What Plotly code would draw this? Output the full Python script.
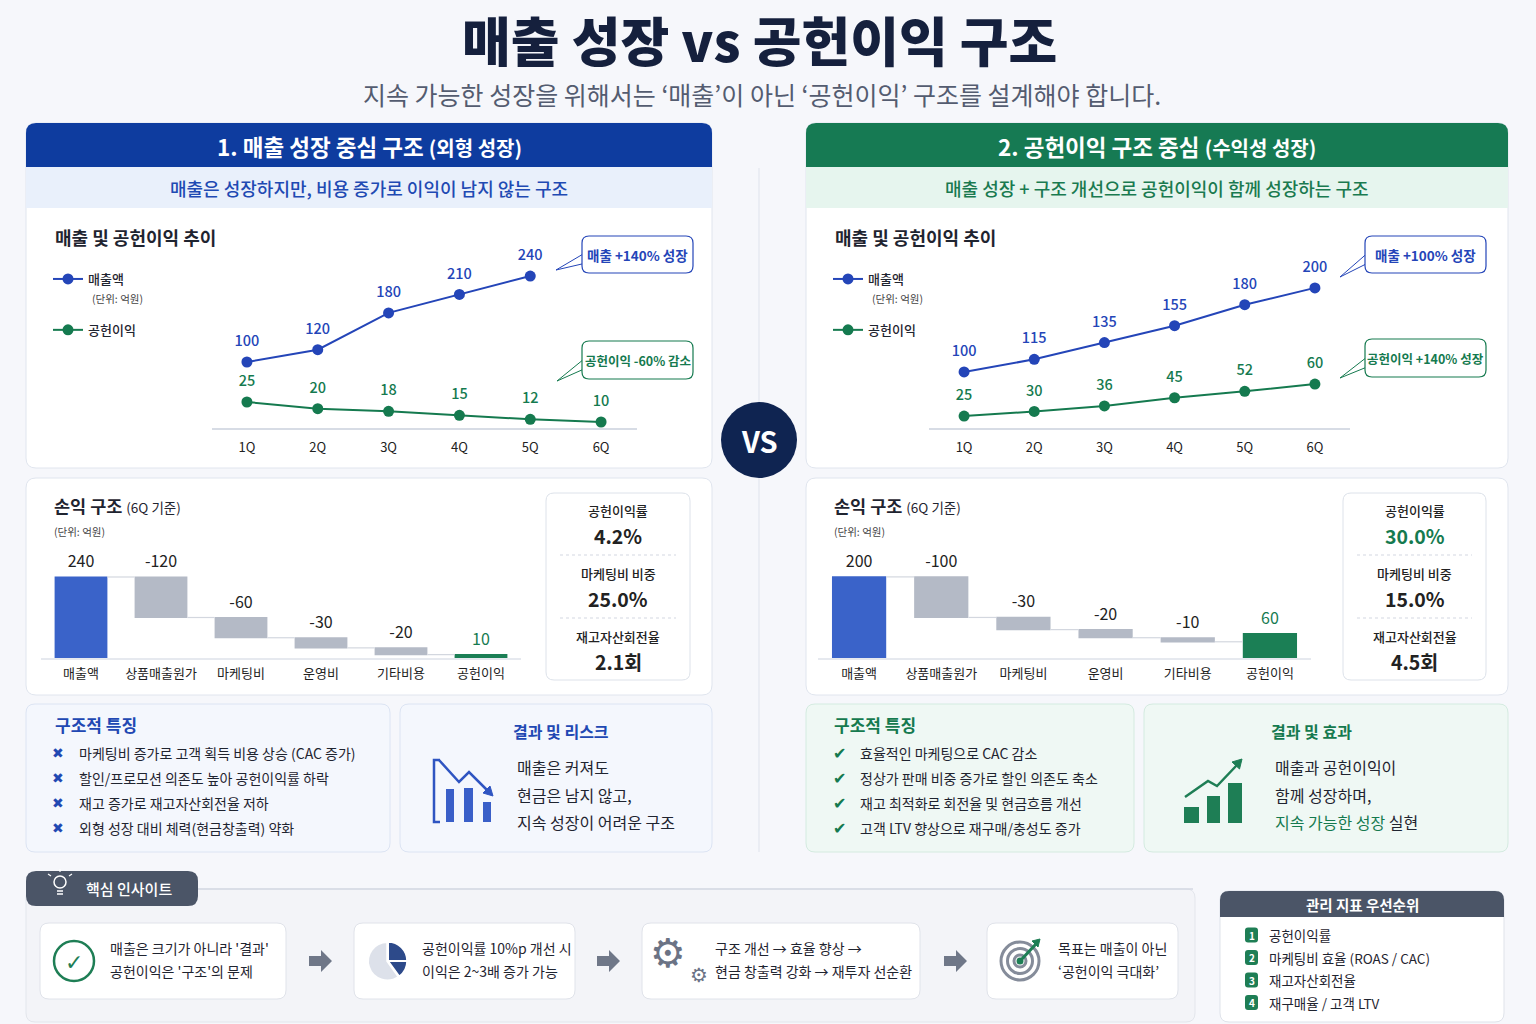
import plotly.graph_objects as go

W, H = 1536, 1024
FONT = "Noto Sans CJK KR"

# ---------------- data ----------------
QUARTERS = ["1Q", "2Q", "3Q", "4Q", "5Q", "6Q"]
LEFT_SALES = [100, 120, 180, 210, 240, None]
LEFT_PROFIT = [25, 20, 18, 15, 12, 10]
RIGHT_SALES = [100, 115, 135, 155, 180, 200]
RIGHT_PROFIT = [25, 30, 36, 45, 52, 60]

PL_ITEMS = ["매출액", "상품매출원가", "마케팅비", "운영비", "기타비용", "공헌이익"]
LEFT_PL = [240, -120, -60, -30, -20, 10]
RIGHT_PL = [200, -100, -30, -20, -10, 60]
PL_MEASURES = ["relative", "relative", "relative", "relative", "relative", "absolute"]

KPI_NAMES = ["공헌이익률", "마케팅비 비중", "재고자산회전율"]
LEFT_KPI = ["4.2%", "25.0%", "2.1회"]
RIGHT_KPI = ["30.0%", "15.0%", "4.5회"]

LEFT_FEATURES = ["마케팅비 증가로 고객 획득 비용 상승 (CAC 증가)",
                 "할인/프로모션 의존도 높아 공헌이익률 하락",
                 "재고 증가로 재고자산회전율 저하",
                 "외형 성장 대비 체력(현금창출력) 약화"]
RIGHT_FEATURES = ["효율적인 마케팅으로 CAC 감소",
                  "정상가 판매 비중 증가로 할인 의존도 축소",
                  "재고 최적화로 회전율 및 현금흐름 개선",
                  "고객 LTV 향상으로 재구매/충성도 증가"]
LEFT_RESULT = ["매출은 커져도", "현금은 남지 않고,", "지속 성장이 어려운 구조"]
RIGHT_RESULT = ["매출과 공헌이익이", "함께 성장하며,",
                "<span style='color:#157a4f'>지속 가능한 성장</span> 실현"]
INSIGHTS = [("매출은 크기가 아니라 '결과'", "공헌이익은 '구조'의 문제"),
            ("공헌이익률 10%p 개선 시", "이익은 2~3배 증가 가능"),
            ("구조 개선 → 효율 향상 →", "현금 창출력 강화 → 재투자 선순환"),
            ("목표는 매출이 아닌", "‘공헌이익 극대화’")]
PRIORITIES = ["공헌이익률", "마케팅비 효율 (ROAS / CAC)", "재고자산회전율", "재구매율 / 고객 LTV"]
PIE_ICON = [25, 15, 60]

# ---------------- colours ----------------
BG = "#f6f7fb"
DARK = "#1f2430"
BLUE_HDR = "#0e3c9f"
GREEN_HDR = "#167a53"
BLUE = "#2445b8"
BLUE_TXT = "#2148b3"
BLUE_BAR = "#3a63c9"
GREEN = "#157a4f"
GREEN_BAR = "#1b7f55"
GRAY_BAR = "#b4bac6"
SLATE = "#4b5567"
CARD_LINE = "#e0e5ee"


def X(p):
    return p / W


def Y(p):
    return 1 - p / H


shapes = []
ann = []


def rpath(x0, y0, x1, y1, r, top=False):
    rx, ry = r / W, r / H
    L, T_, R, B = X(x0), Y(y0), X(x1), Y(y1)
    if top:
        return (f"M{L},{B} L{L},{T_-ry} Q{L},{T_} {L+rx},{T_} L{R-rx},{T_} "
                f"Q{R},{T_} {R},{T_-ry} L{R},{B} Z")
    return (f"M{L+rx},{T_} L{R-rx},{T_} Q{R},{T_} {R},{T_-ry} L{R},{B+ry} "
            f"Q{R},{B} {R-rx},{B} L{L+rx},{B} Q{L},{B} {L},{B+ry} L{L},{T_-ry} "
            f"Q{L},{T_} {L+rx},{T_} Z")


def RR(x0, y0, x1, y1, r=8, fill="white", line=None, lw=1, top=False, dash=None, layer="below"):
    shapes.append(dict(type="path", xref="paper", yref="paper", path=rpath(x0, y0, x1, y1, r, top),
                       fillcolor=fill,
                       line=dict(color=line or "rgba(0,0,0,0)", width=lw if line else 0, dash=dash),
                       layer=layer))


def LN(x0, y0, x1, y1, color, w=1, dash=None, layer="below"):
    shapes.append(dict(type="line", xref="paper", yref="paper", x0=X(x0), y0=Y(y0), x1=X(x1), y1=Y(y1),
                       line=dict(color=color, width=w, dash=dash), layer=layer))


def CI(cx, cy, r, fill=None, line=None, lw=1, layer="below"):
    shapes.append(dict(type="circle", xref="paper", yref="paper", x0=X(cx - r), x1=X(cx + r),
                       y0=Y(cy + r), y1=Y(cy - r), fillcolor=fill or "rgba(0,0,0,0)",
                       line=dict(color=line or "rgba(0,0,0,0)", width=lw if line else 0), layer=layer))


def PG(pts, fill, line=None, lw=1, close=True, layer="below"):
    p = "M" + " L".join(f"{X(a)},{Y(b)}" for a, b in pts) + (" Z" if close else "")
    shapes.append(dict(type="path", xref="paper", yref="paper", path=p, fillcolor=fill,
                       line=dict(color=line or "rgba(0,0,0,0)", width=lw if line else 0), layer=layer))


def T(x, y, s, size=13, color=DARK, weight=400, xa="left", family=FONT):
    ann.append(dict(x=X(x), y=Y(y), xref="paper", yref="paper", text=s, showarrow=False,
                    xanchor=xa, yanchor="middle",
                    font=dict(family=family, size=size, color=color, weight=weight)))


# ---------------- title ----------------
T(759, 39, "매출 성장 vs 공헌이익 구조", 53, "#15203d", 900, "center")
T(762, 94, "지속 가능한 성장을 위해서는 ‘매출’이 아닌 ‘공헌이익’ 구조를 설계해야 합니다.", 25, "#545c70", 400, "center")

# divider
LN(759, 168, 759, 852, "#dfe3ec", 1)


def panel(x0, x1, hdr_col, band_col, hdr_text, band_text, band_txt_col):
    RR(x0, 123, x1, 468, 10, "white", CARD_LINE)
    RR(x0, 123, x1, 167, 10, hdr_col, top=True)
    RR(x0, 167, x1, 208, 0, band_col)
    cx = (x0 + x1) / 2
    T(cx, 146, hdr_text, 22.5, "white", 700, "center")
    T(cx, 188, band_text, 18, band_txt_col, 500, "center")
    T(x0 + 27, 237, "매출 및 공헌이익 추이", 18, DARK, 700)
    T(x0 + 64, 298, "(단위: 억원)", 10.5, "#444")
    RR(x0, 478, x1, 695, 10, "white", CARD_LINE)
    T(x0 + 26, 505, "<b>손익 구조</b> <span style='font-size:13.5px'>(6Q 기준)</span>", 17.5, DARK)
    T(x0 + 26, 531, "(단위: 억원)", 10.5, "#444")


panel(26, 712, BLUE_HDR, "#e9f0fb", "1. 매출 성장 중심 구조 <span style='font-size:20px'>(외형 성장)</span>",
      "매출은 성장하지만, 비용 증가로 이익이 남지 않는 구조", "#1f4ab3")
panel(806, 1508, GREEN_HDR, "#e6f5ee", "2. 공헌이익 구조 중심 <span style='font-size:20px'>(수익성 성장)</span>",
      "매출 성장 + 구조 개선으로 공헌이익이 함께 성장하는 구조", "#1a7a50")


def callout(x0, y0, x1, y1, tip, color, text, size):
    yc = (y0 + y1) / 2
    PG([(x0 + 2, yc - 1), tip, (x0 + 2, yc + 9)], "white", color, 1)
    RR(x0, y0, x1, y1, 7, "white", color, 1.2)
    T((x0 + x1) / 2, yc, text, size, color, 700, "center")


callout(582, 236, 693, 273, (556, 270), BLUE, "매출 +140% 성장", 13.5)
callout(582, 341, 693, 379, (557, 381), GREEN, "공헌이익 -60% 감소", 12.5)
callout(1365, 236, 1486, 273, (1340, 277), BLUE, "매출 +100% 성장", 13.5)
callout(1365, 339, 1486, 377, (1340, 378), GREEN, "공헌이익 +140% 성장", 12.5)


def kpi(x0, x1, vals, first_col):
    RR(x0, 493, x1, 680, 8, "white", "#dde2ea", 1)
    cx = (x0 + x1) / 2
    for i, (nm, v) in enumerate(zip(KPI_NAMES, vals)):
        T(cx, 510 + 63 * i, nm, 13, "#222", 500, "center")
        T(cx, 535 + 63 * i, v, 19.5, first_col if i == 0 else "#222", 700, "center")
    LN(x0 + 14, 555, x1 - 14, 555, "#e2e5eb", 1.5, "dot")
    LN(x0 + 14, 618, x1 - 14, 618, "#e2e5eb", 1.5, "dot")


kpi(546, 690, LEFT_KPI, "#222")
kpi(1343, 1486, RIGHT_KPI, GREEN)

# lower boxes
RR(26, 704, 390, 852, 9, "#f4f7fd", "#dce4f3")
T(53, 724, "구조적 특징", 17, BLUE_TXT, 700)
for i, s in enumerate(LEFT_FEATURES):
    y = 753 + 25 * i
    T(58, y, "✖", 14, BLUE_TXT, 700, "center", "DejaVu Sans")
    T(77, y, s, 14, DARK)
RR(400, 704, 712, 852, 9, "#f4f7fd", "#dce4f3")
T(561, 731, "결과 및 리스크", 16, BLUE_TXT, 700, "center")
for i, s in enumerate(LEFT_RESULT):
    T(515, 767 + 27.5 * i, s, 16, DARK)
# risk icon
ICB = "#2f55c2"
PG([(440, 760), (434, 760), (434, 822), (440, 822)], "rgba(0,0,0,0)", ICB, 2.5, close=False)
PG([(439, 760), (459, 782), (469, 772), (488, 791)], "rgba(0,0,0,0)", ICB, 2.5, close=False)
PG([(493, 796), (483, 793), (490, 786)], ICB, ICB, 1)
RR(446, 789, 454, 822, 0, "#3a5fc8")
RR(464, 788, 473, 822, 0, "#3a5fc8")
RR(483, 802, 491, 822, 0, "#3a5fc8")

RR(806, 704, 1134, 852, 9, "#eff8f4", "#d4ebe0")
T(832, 724, "구조적 특징", 17, GREEN, 700)
for i, s in enumerate(RIGHT_FEATURES):
    y = 753 + 25 * i
    T(839, y, "✔", 16, GREEN, 700, "center", "DejaVu Sans")
    T(858, y, s, 14, DARK)
RR(1144, 704, 1508, 852, 9, "#eff8f4", "#d4ebe0")
T(1311, 731, "결과 및 효과", 16, GREEN, 700, "center")
for i, s in enumerate(RIGHT_RESULT):
    T(1273, 767 + 27.5 * i, s, 16, DARK)
ICG = "#1e7e55"
RR(1184, 807, 1199, 823, 0, ICG)
RR(1207, 796, 1220, 823, 0, ICG)
RR(1228, 783, 1242, 823, 0, ICG)
PG([(1185, 797), (1208, 781), (1217, 786), (1237, 765)], "rgba(0,0,0,0)", ICG, 2.5, close=False)
PG([(1242, 759), (1239.5, 769), (1232, 762)], ICG, ICG, 1)

# VS badge
CI(759, 440, 38, fill="#0f2451")
T(759, 440, "VS", 29, "white", 700, "center")

# ---------------- bottom insight ----------------
RR(26, 889, 1195, 1022, 9, "#f3f4f8", "#e3e6ec")
LN(190, 889, 1193, 889, "#d5d9e3", 1.5)
RR(26, 871, 198, 906, 10, SLATE)
CI(60, 882, 6, line="white", lw=1.5)
LN(57, 891, 63, 891, "white", 1.5)
LN(57, 894, 63, 894, "white", 1.5)
LN(60, 872, 60, 869, "white", 1.2)
LN(51, 876, 48, 874, "white", 1.2)
LN(69, 876, 72, 874, "white", 1.2)
T(84, 888, "핵심 인사이트", 15, "white", 500)

CARDS = [(40, 286, 108), (354, 575, 420), (642, 920, 713), (987, 1178, 1056)]
for (a, b, tx), (l1, l2) in zip(CARDS, INSIGHTS):
    RR(a, 923, b, 999, 9, "white", "#e0e3ea")
    T(tx, 948, l1, 14, DARK)
    T(tx, 971, l2, 14, DARK)
for cx in [320, 608, 955]:
    PG([(cx - 11, 956), (cx + 1, 956), (cx + 1, 950), (cx + 12, 961), (cx + 1, 972),
        (cx + 1, 966), (cx - 11, 966)], "#6f7788")
# icons
CI(74, 961, 20, line=ICG, lw=2.5)
T(74, 962, "✓", 22, ICG, 700, "center", "DejaVu Sans")
T(668, 953, "⚙", 40, "#6b7385", 400, "center", "DejaVu Sans")
T(699, 975, "⚙", 20, "#6b7385", 400, "center", "DejaVu Sans")
for r in (19, 12.5, 6):
    CI(1020, 961, r, line="#858c9a", lw=3)
CI(1020, 961, 3.5, fill=ICG)
LN(1021, 960, 1036, 944, ICG, 3)
PG([(1032, 941), (1040, 939), (1038, 947)], ICG, ICG, 1)

# priority box
RR(1220, 891, 1504, 1022, 9, "white", "#dfe3ea")
RR(1220, 891, 1504, 917, 9, SLATE, top=True)
T(1362, 904, "관리 지표 우선순위", 14.5, "white", 700, "center")
for i, s in enumerate(PRIORITIES):
    y = 935 + 22.5 * i
    RR(1245, y - 7.5, 1258, y + 7.5, 3, ICG)
    T(1251.5, y, str(i + 1), 10, "white", 700, "center")
    T(1267, y, s, 13.5, DARK)

# ---------------- traces ----------------
fig = go.Figure()


def lbl(vals):
    return ["" if v is None else str(v) for v in vals]


def line_pair(xa, ya, vals, color, name, legend):
    fig.add_trace(go.Scatter(x=QUARTERS, y=vals, mode="lines+markers", name=name,
                             line=dict(color=color, width=2), marker=dict(size=11, color=color),
                             xaxis=xa, yaxis=ya, legend=legend, legendgroup=name + legend,
                             showlegend=True, cliponaxis=False, hoverinfo="skip"))
    fig.add_trace(go.Scatter(x=QUARTERS, y=vals, mode="markers+text", text=lbl(vals),
                             textposition="top center", marker=dict(size=18, opacity=0),
                             textfont=dict(size=14.5, color=color, family=FONT, weight=500),
                             xaxis=xa, yaxis=ya, showlegend=False, cliponaxis=False, hoverinfo="skip"))


line_pair("x", "y", LEFT_SALES, BLUE, "매출액", "legend")
line_pair("x", "y2", LEFT_PROFIT, GREEN, "공헌이익", "legend")
line_pair("x2", "y3", RIGHT_SALES, BLUE, "매출액", "legend2")
line_pair("x2", "y4", RIGHT_PROFIT, GREEN, "공헌이익", "legend2")


def tops(vals, measures):
    out, cum = [], 0
    for v, m in zip(vals, measures):
        if m == "absolute":
            cum = v
            out.append(v)
        elif v >= 0:
            cum += v
            out.append(cum)
        else:
            out.append(cum)
            cum += v
    return out


def waterfall(xa, ya, vals):
    fig.add_trace(go.Waterfall(x=PL_ITEMS, y=vals, measure=PL_MEASURES, xaxis=xa, yaxis=ya,
                               increasing=dict(marker=dict(color=BLUE_BAR)),
                               decreasing=dict(marker=dict(color=GRAY_BAR)),
                               totals=dict(marker=dict(color=GREEN_BAR)),
                               connector=dict(line=dict(color="#d3d7df", width=1.2)),
                               textinfo="none", showlegend=False, hoverinfo="skip"))
    cols = ["#222"] * (len(vals) - 1) + [GREEN]
    fig.add_trace(go.Scatter(x=PL_ITEMS, y=tops(vals, PL_MEASURES), mode="markers+text",
                             text=[str(v) for v in vals], textposition="top center",
                             marker=dict(size=8, opacity=0),
                             textfont=dict(size=16, color=cols, family=FONT),
                             xaxis=xa, yaxis=ya, showlegend=False, cliponaxis=False, hoverinfo="skip"))


waterfall("x3", "y5", LEFT_PL)
waterfall("x4", "y6", RIGHT_PL)

pie_dom = dict(x=[X(368), X(408)], y=[Y(981), Y(941)])
fig.add_trace(go.Pie(values=PIE_ICON, labels=["a", "b", "c"], domain=pie_dom, sort=False,
                     direction="clockwise", rotation=0, textinfo="none", hoverinfo="skip",
                     showlegend=False, pull=[0, 0, 0.04],
                     marker=dict(colors=["#2d4a8a", "#2d4a8a", "#dde1ea"], line=dict(color="white", width=2))))


def xcat(x0, x1, anchor, ticklen, linecolor):
    return dict(domain=[X(x0), X(x1)], anchor=anchor, type="category", range=[-0.5, 5.5],
                showline=True, linecolor=linecolor, linewidth=1.5, showgrid=False, zeroline=False,
                ticks="outside", ticklen=ticklen, tickcolor="rgba(0,0,0,0)",
                tickfont=dict(size=13, color="#222", family=FONT), fixedrange=True)


def yhid(y0, y1, rng, anchor, overlay=None):
    d = dict(domain=[Y(y1), Y(y0)], range=rng, visible=False, anchor=anchor, fixedrange=True)
    if overlay:
        d["overlaying"] = overlay
    return d


LEG = dict(xanchor="left", yanchor="top", bgcolor="rgba(0,0,0,0)",
           font=dict(size=13, color=DARK, family=FONT, weight=500), tracegroupgap=31,
           itemwidth=30, traceorder="grouped")

fig.update_layout(
    width=W, height=H, margin=dict(l=0, r=0, t=0, b=0),
    paper_bgcolor=BG, plot_bgcolor="rgba(0,0,0,0)",
    font=dict(family=FONT, color=DARK),
    hovermode=False, waterfallgap=0.34,
    xaxis=xcat(211.5, 636.5, "y", 7, "#d7dce5"),
    yaxis=yhid(240, 428, [-7.5, 298.7], "x"),
    yaxis2=yhid(240, 428, [5.5, 146.5], "x", "y"),
    xaxis2=xcat(929, 1350, "y3", 7, "#d7dce5"),
    yaxis3=yhid(240, 428, [33.3, 257], "x2"),
    yaxis4=yhid(240, 428, [11.9, 217.6], "x2", "y3"),
    xaxis3=xcat(41, 521, "y5", 3, "#e6e9ef"),
    yaxis5=yhid(540, 658, [0, 349.6], "x3"),
    xaxis4=xcat(818, 1311, "y6", 3, "#e6e9ef"),
    yaxis6=yhid(540, 658, [0, 291], "x4"),
    legend=dict(LEG, x=X(48), y=Y(264)),
    legend2=dict(LEG, x=X(828), y=Y(264)),
    shapes=shapes, annotations=ann,
)

fig.write_html("out.html", config={"displayModeBar": False},
               post_script="document.body.style.margin='0';document.body.style.overflow='hidden';")
